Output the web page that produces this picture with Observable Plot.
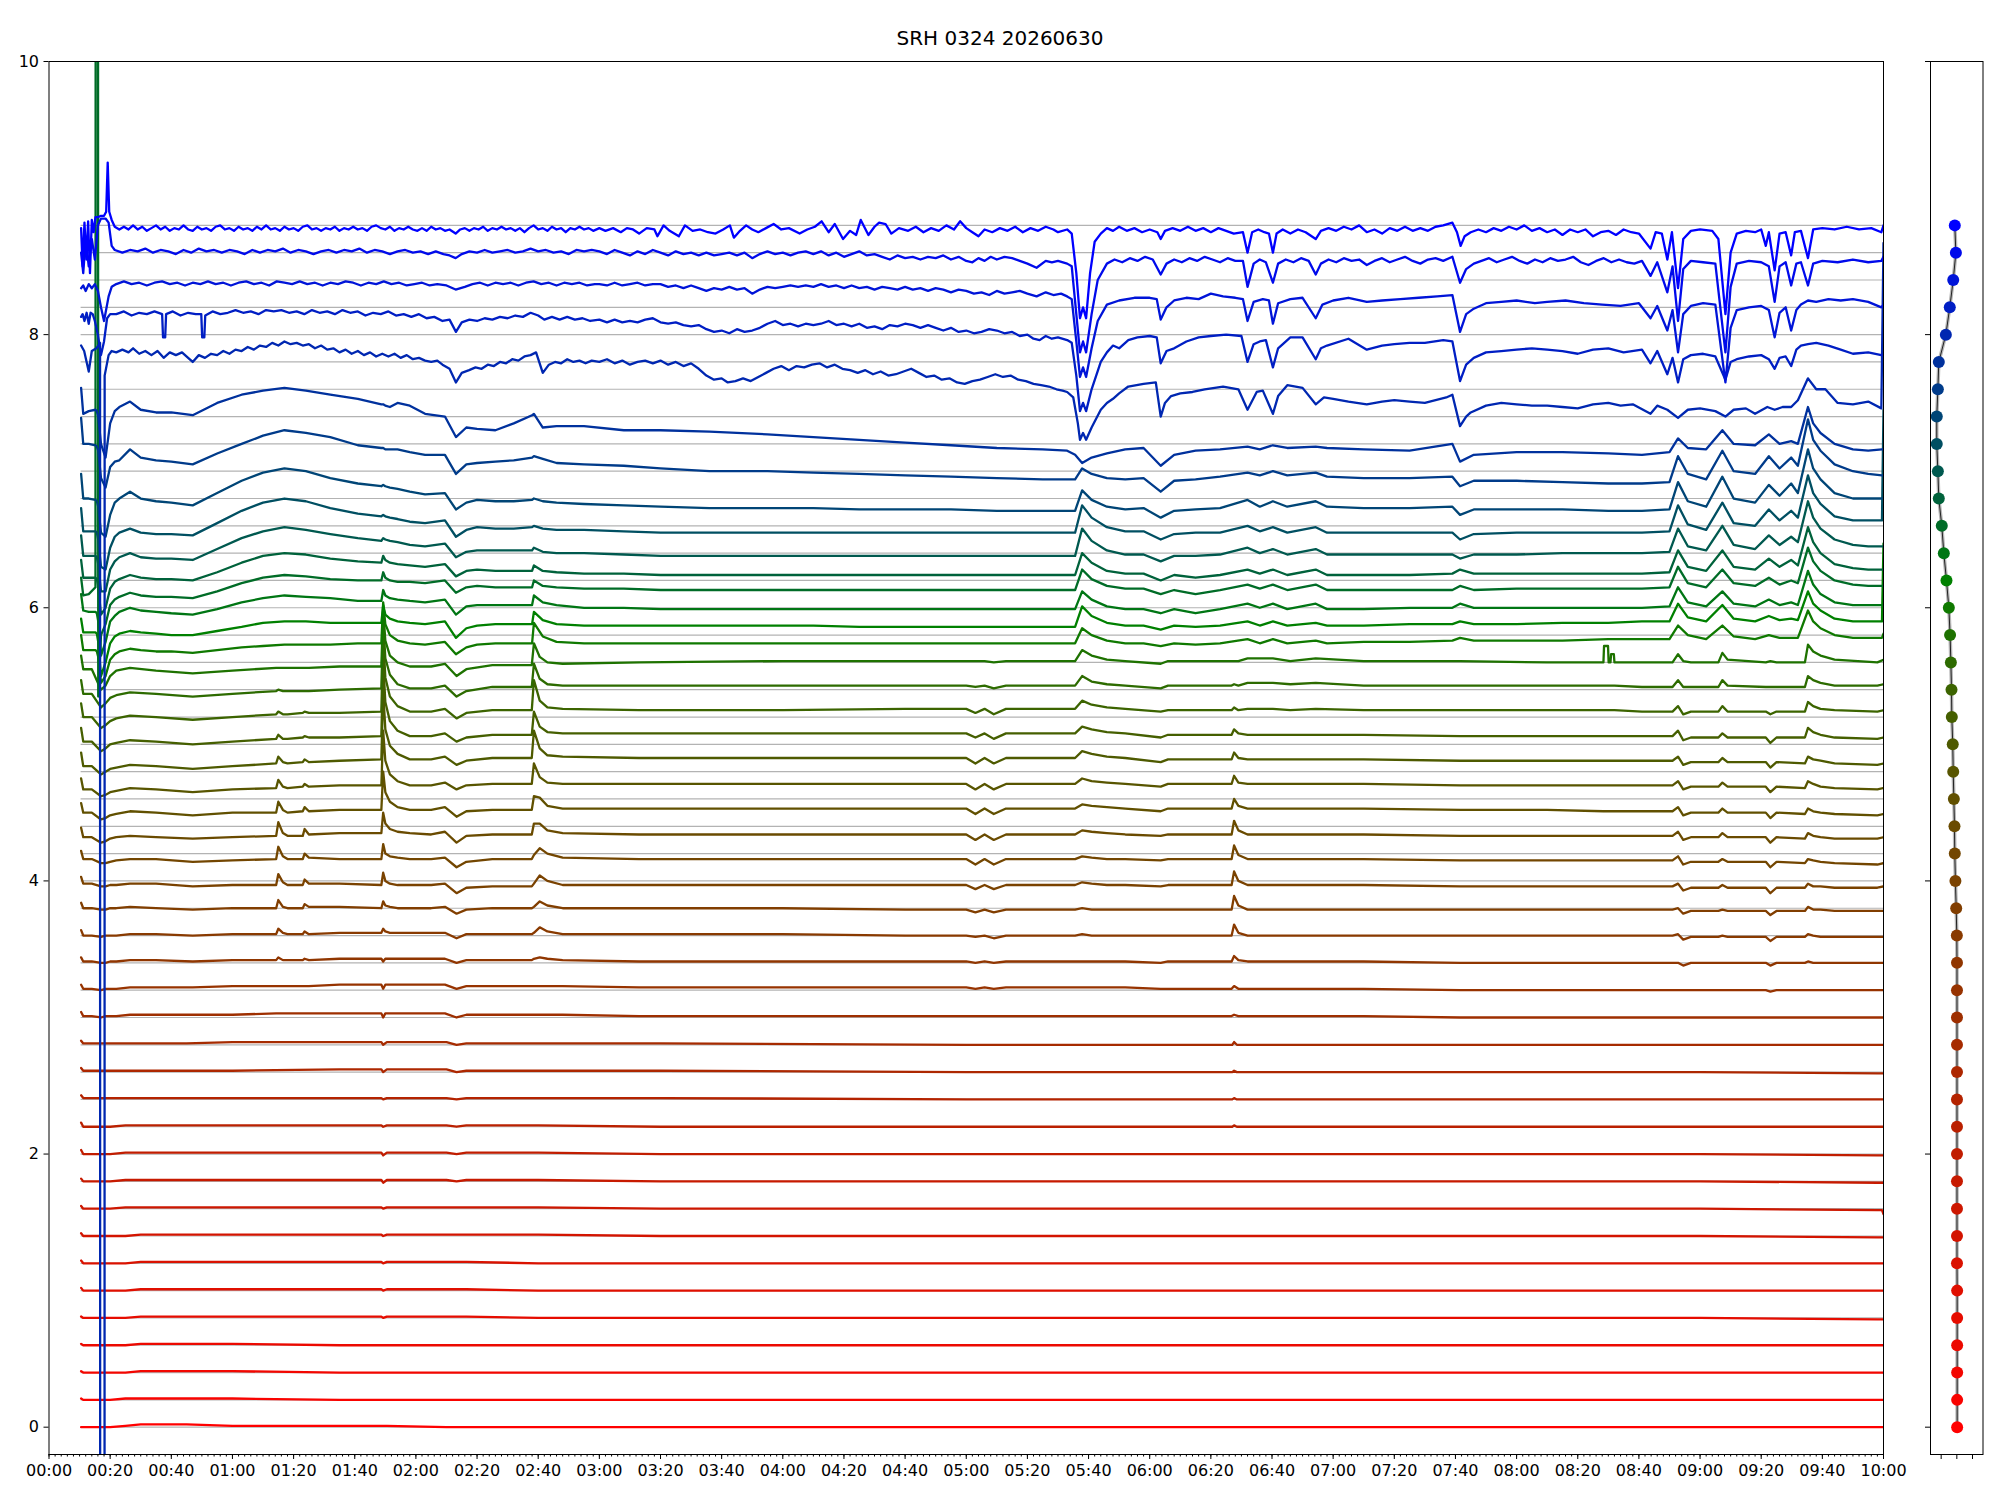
<!DOCTYPE html>
<html><head><meta charset="utf-8">
<script src="https://cdn.jsdelivr.net/npm/d3@7"></script>
<script src="https://cdn.jsdelivr.net/npm/@observablehq/plot@0.6"></script>
<style>
 body{margin:0;background:#fff}
 #fig{position:relative;width:2000px;height:1500px;background:#fff;font-family:"DejaVu Sans",sans-serif}
 #title{position:absolute;left:0;top:26px;width:2000px;text-align:center;font-size:20px;line-height:24px;z-index:2;color:#000}
 #main{position:absolute;left:0;top:0;width:1900px;height:1500px}
 #side{position:absolute;left:1900px;top:0;width:100px;height:1500px}
</style></head><body>
<div id="fig"><div id="main"></div><div id="side"></div><div id="title">SRH 0324 20260630</div></div>
<script>
// ---- DATA (minutes since 00:00; deviations from each trace's baseline in hundredths) ----
const titleText = "SRH 0324 20260630";
const baseStep = 0.2;            // baseline spacing between traces
const xTickMinutes = d3.range(0, 601, 20);
const xMinorMinutes = d3.range(0, 601, 2);
const yTicks = [0, 2, 4, 6, 8, 10];

// lower red traces 0.0 .. 2.8
const TR = [10.5,11.2,20,25,30,45,60,95,108.7,109.3,110.5,130,133.3,136.5,160,200,300,387,387.6,388.5,430,460,500,540,598,599.5,600];
const r00 = [0,0,0,1,2,2,1,1,1,1,1,0,0,0,0,0,0,0,0,0,0,0,0,0,0,0,0];
const r02 = [1,0,0,1,1,1,1,0,0,0,0,0,0,0,0,0,0,0,0,0,0,0,0,0,0,0,0];
const r04 = [1,0,0,0,1,1,1,0,0,0,0,0,0,0,0,0,0,0,0,0,0,0,0,0,0,0,0];
const r06 = [1,0,0,0,1,1,1,0,0,0,0,0,0,0,0,0,0,0,0,0,0,0,0,0,0,0,0];
const r08 = [1,0,0,0,1,1,1,1,1,0,1,1,1,1,0,0,0,0,0,0,0,0,0,0,-1,-1,-1];
const r10 = [2,0,0,0,1,1,1,1,1,0,1,1,1,1,0,0,0,0,0,0,0,0,0,0,0,0,0];
const r12 = [2,0,0,0,1,1,1,1,1,0,1,1,1,1,0,0,0,0,0,0,0,0,0,0,0,0,0];
const r14 = [2,0,0,0,1,1,1,1,1,0,1,1,1,1,1,0,0,0,0,0,0,0,0,0,-1,-1,-1];
const r16 = [2,0,0,1,1,1,1,1,1,0,1,1,1,1,1,0,0,0,0,0,0,0,0,0,-1,-1,-4];
const r18 = [2,0,0,1,1,1,1,1,1,-1,1,1,0,1,1,0,0,0,0,0,0,0,0,0,-1,-1,-1];
const r20 = [3,0,0,1,1,1,1,1,1,-1,1,1,0,1,1,0,0,0,0,0,0,0,0,0,-1,-1,-1];
const r22 = [3,0,0,1,1,1,1,1,1,0,1,1,0,1,1,0,0,0,1,0,0,0,0,0,0,0,0];
const r24 = [3,1,1,1,1,1,1,1,1,0,1,1,0,1,1,1,0,0,1,0,0,0,0,0,0,0,0];
const r26 = [3,1,1,1,1,1,1,2,2,0,2,2,0,1,1,1,0,0,1,0,0,0,0,0,-1,-1,-1];
const r28 = [3,1,1,1,1,1,2,2,2,0,2,2,0,1,1,1,0,0,2,0,0,0,0,0,0,0,0];

// middle traces 3.0 .. 5.8
const TM = [10.5,11.2,14,17,18.5,20,22,26.5,35,47,
 60,74.3,75,76.5,78,83,83.6,85,95,108.7,
 109.3,110,111.5,114,118,125,129.5,133.3,136.5,145,
 157.9,158.6,160.5,163,168,193,240,280,300,303,
 306,309,313,330,335.6,337.9,341,346,352,363.6,
 366,386.8,387.6,389,392,400.3,406,414.3,430,461.5,
 490,508.4,508.6,509.9,510.1,510.7,510.9,511.8,512,521,
 531,532.8,534.5,537,546,547.3,549,561.5,563,565,
 574.3,575.3,577,579.4,584,598,600];
const b30 = [4,1,1,0,1,1,1,2,2,2, 2,3,3,3,3,3,3,3,3,3, 0,3,3,3,3,3,3,0,2,2, 2,2,2,2,2,1,1,1,1,1, 1,1,1,1,1,1,1,1,1,1, 1,1,2,1,1,1,1,1,1,0, 0,0,0,0,0,0,0,0,0,0, 0,0,0,0,0,0,0,0,0,0, 0,0,0,0,0,0,0];
const b32 = [4,1,1,0,1,1,1,2,2,2, 3,3,3,3,3,3,3,3,4,4, 1,4,4,4,4,4,4,1,3,3, 3,3,3,3,3,2,2,2,2,1, 2,1,2,2,2,2,2,2,2,1, 1,1,3,1,1,1,1,1,1,0, 0,0,0,0,0,0,0,0,0,0, 0,0,0,0,0,0,0,0,-1,0, 0,0,0,0,0,0,0];
const b34 = [4,1,1,0,0,1,1,2,2,1, 2,2,4,2,2,2,3,2,3,3, 1,3,3,3,3,3,3,0,2,2, 2,3,4,3,2,1,1,1,1,0, 1,0,1,1,1,1,1,1,1,0, 1,1,5,2,1,1,1,1,1,0, 0,0,0,0,0,0,0,0,0,0, 0,0,-2,0,0,0,0,0,-2,0, 0,1,0,0,0,0,0];
const b36 = [4,0,0,-1,0,0,0,1,1,0, 1,1,5,2,1,1,3,1,2,2, 5,3,2,2,2,2,2,-2,1,1, 1,2,6,3,1,1,1,0,0,-1, 0,-2,0,0,0,1,0,0,0,0, 0,0,8,2,0,0,0,0,0,0, 0,0,0,0,0,0,0,0,0,0, 0,1,-3,-1,-1,0,-1,-1,-4,-1, -1,1,0,-1,-1,-1,-1];
const b38 = [4,0,0,-1,-1,0,0,1,0,-1, 0,0,6,1,0,0,3,1,1,0, 5,2,1,0,0,0,1,-4,-1,0, 0,1,5,2,0,0,0,-1,-1,-3, -1,-3,-1,-1,-1,0,-1,-1,-1,-1, -1,-1,9,2,-1,-1,-1,-1,-1,-1, -1,-1,-1,-1,-1,-1,-1,-1,-1,-1, -1,0,-4,-2,-2,-1,-2,-2,-5,-2, -2,1,-1,-1,-2,-2,-2];
const b40 = [3,-2,-2,-4,-4,-3,-3,-2,-2,-4, -3,-3,5,-1,-3,-3,1,-2,-2,-3, 6,0,-2,-3,-3,-3,-2,-9,-5,-4, -4,-2,4,0,-3,-3,-3,-3,-3,-6, -3,-6,-3,-3,-3,-1,-2,-3,-3,-4, -3,-3,7,0,-3,-3,-3,-3,-3,-4, -4,-4,-4,-4,-4,-4,-4,-4,-4,-4, -4,-2,-7,-5,-5,-3,-5,-5,-9,-5, -5,-2,-4,-4,-5,-5,-4];
const m42 = [2,-4,-4,-7,-7,-6,-5,-4,-4,-6, -5,-4,5,-2,-4,-4,0,-3,-4,-4, 7,0,-2,-3,-4,-4,-3,-10,-6,-4, -4,-1,4,0,-3,-4,-4,-4,-4,-8, -4,-8,-4,-4,-4,-2,-3,-4,-4,-5, -4,-4,6,-1,-4,-4,-4,-4,-4,-5, -5,-5,-5,-5,-5,-5,-5,-5,-5,-5, -5,-2,-8,-6,-6,-4,-6,-6,-10,-6, -7,-4,-5,-6,-7,-8,-7];
const m44 = [-1,-8,-8,-12,-11,-9,-8,-7,-8,-9, -8,-7,3,-5,-7,-7,-2,-6,-5,-5, 10,2,-2,-4,-5,-6,-4,-12,-7,-6, -6,2,2,-3,-5,-6,-6,-6,-6,-10, -6,-10,-6,-6,-6,-3,-4,-5,-6,-7, -6,-6,4,-3,-6,-6,-6,-6,-6,-7, -7,-7,-7,-7,-7,-7,-7,-7,-7,-7, -7,-4,-10,-8,-8,-5,-8,-8,-12,-8, -9,-5,-7,-8,-9,-9,-8];
const m46 = [-3,-10,-10,-15,-14,-12,-11,-9,-10,-12, -10,-10,-2,-8,-10,-9,-6,-9,-8,-8, 20,5,-2,-6,-8,-8,-6,-13,-9,-8, -8,2,1,-5,-7,-7,-7,-7,-7,-11, -7,-11,-7,-7,-7,-4,-5,-6,-7,-9, -7,-7,0,-5,-7,-7,-7,-7,-7,-8, -8,-9,-9,-9,-9,-9,-9,-9,-9,-9, -9,-6,-12,-10,-10,-7,-10,-10,-14,-10, -11,-7,-9,-10,-11,-12,-11];
const m48 = [-5,-13,-13,-18,-17,-15,-14,-12,-13,-15, -13,-12,-6,-11,-12,-11,-9,-11,-10,-10, 30,8,-2,-7,-10,-10,-8,-13,-10,-9, -9,6,-4,-8,-9,-9,-9,-9,-9,-13, -9,-13,-9,-9,-9,-5,-7,-8,-9,-11, -9,-9,-3,-8,-9,-9,-9,-9,-9,-10, -10,-10,-10,-10,-10,-10,-10,-10,-10,-10, -10,-7,-13,-11,-11,-8,-11,-11,-15,-11, -12,-7,-9,-11,-12,-13,-12];
const m50 = [-6,-16,-16,-22,-20,-18,-17,-15,-16,-18, -16,-14,-9,-13,-14,-13,-11,-13,-12,-11, 39,11,-1,-7,-11,-11,-9,-15,-12,-10, -10,10,-3,-8,-9,-10,-10,-10,-10,-14, -10,-14,-10,-10,-10,-5,-7,-9,-10,-13, -11,-11,-6,-10,-11,-11,-11,-11,-11,-12, -12,-12,-12,-12,-12,-12,-12,-12,-12,-12, -12,-9,-15,-13,-13,-10,-13,-13,-17,-13, -14,-9,-11,-12,-14,-15,-14];
const m52 = [-8,-18,-18,-25,-23,-20,-19,-17,-18,-20, -18,-16,-13,-16,-16,-15,-14,-15,-15,-14, 41,11,-3,-10,-14,-14,-12,-18,-15,-13, -13,4,-7,-11,-12,-12,-12,-12,-12,-15, -12,-16,-12,-12,-12,-7,-9,-11,-12,-15, -13,-13,-9,-12,-13,-13,-13,-13,-13,-14, -14,-14,-14,-14,-14,-14,-14,-14,-14,-14, -14,-10,-17,-15,-15,-12,-15,-15,-19,-15, -15,-8,-11,-13,-15,-16,-15];
const m54 = [-10,-20,-20,-28,-26,-23,-21,-19,-20,-22, -20,-18,-16,-18,-18,-17,-16,-17,-17,-16, 39,9,-5,-12,-16,-16,-14,-21,-17,-15, -15,7,-8,-13,-14,-15,-15,-14,-14,-17, -14,-18,-14,-14,-14,-8,-11,-13,-14,-16, -15,-15,-13,-15,-14,-14,-15,-14,-15,-15, -15,-15,-15,-15,-15,-15,-15,-15,-15,-16, -16,-12,-18,-16,-16,-12,-16,-16,-18,-16, -16,-9,-12,-14,-15,-16,-15];
const m56 = [-13,-23,-23,-33,-30,-26,-24,-22,-23,-25, -23,-21,-20,-21,-21,-21,-21,-21,-20,-19, 31,3,-9,-16,-19,-19,-17,-25,-21,-18, -18,-1,-12,-16,-17,-17,-17,-17,-17,-18, -17,-19,-17,-17,-17,-10,-14,-16,-17,-19, -17,-17,-16,-17,-15,-15,-16,-15,-17,-17, -17,-17,-17,-17,-17,-17,-17,-17,-17,-18, -18,-13,-18,-18,-18,-13,-17,-18,-18,-18, -18,-10,-13,-15,-17,-17,-16];
const m58 = [-15,-25,-25,-40,-37,-30,-26,-24,-26,-28, -26,-24,-24,-24,-24,-24,-24,-24,-23,-23, 19,-4,-15,-20,-23,-23,-21,-30,-25,-22, -22,-6,-16,-20,-21,-20,-19,-19,-19,-19, -19,-20,-19,-19,-19,-11,-15,-18,-19,-21, -19,-19,-19,-19,-17,-17,-19,-17,-19,-19, -20,-20,-8,-8,-20,-20,-14,-14,-20,-20, -20,-14,-19,-20,-20,-13,-18,-20,-19,-20, -20,-7,-12,-15,-18,-20,-18];

// upper traces 6.0 .. 7.8
const TU = [10.5,11.2,13,15.2,15.65,16.1,17,18.5,20,21.5,
 23,26.5,30,35,40,47,55,63,70,77,
 84,92,101,108.7,109.3,110,111.5,114,118,123,
 129.5,133.1,136.5,140,146,152,158,158.6,161.5,166,
 175,188,200,216,235,250,265,280,295,310,
 325,333,335.6,337.9,341,346,352,358,363.6,368,
 375,383,392,396,400.3,405,414.3,418,430,445,
 459,461.5,466,480,495,510,521,530,532.8,536,
 542,547.3,551,558,562.5,566,569.8,572,575.3,577,
 579.4,584,590,595,599.5,600];
const u60 = [-20,-31,-31,-31,-32,-36,-55,-50,-38,-34, -32,-30,-31,-32,-32,-33,-31,-29,-28,-27, -27,-27,-26,-26,4,-12,-20,-24,-26,-27, -25,-34,-29,-27,-26,-26,-26,-11,-21,-25, -26,-26,-26,-26,-26,-26,-26,-26,-26,-26, -26,-26,-26,-15,-20,-24,-26,-26,-28,-26, -27,-26,-23,-26,-23,-26,-24,-26,-25,-25, -24,-22,-24,-24,-24,-23,-23,-23,-13,-20, -23,-13,-21,-23,-20,-22,-22,-22,-2,-10, -15,-20,-22,-22,-22,-19];
const u62 = [-28,-38,-38,-38,-39,-45,-70,-60,-46,-41, -39,-37,-38,-39,-40,-40,-37,-34,-31,-30, -30,-31,-31,-31,-18,-25,-28,-30,-31,-32, -30,-42,-35,-33,-32,-32,-32,-23,-29,-32, -33,-33,-33,-33,-33,-33,-34,-34,-34,-34, -34,-34,-34,-19,-26,-31,-33,-33,-36,-33, -34,-33,-30,-33,-30,-33,-31,-33,-33,-32, -32,-30,-32,-32,-31,-31,-30,-30,-17,-27, -30,-18,-28,-30,-26,-29,-28,-29,-8,-17, -22,-28,-30,-30,-30,27];
const u64 = [-30,-42,-43,-43,-44,-50,-75,-65,-50,-46, -43,-40,-42,-43,-44,-45,-41,-36,-33,-31, -32,-33,-35,-35,-27,-31,-33,-34,-35,-36, -34,-45,-39,-38,-38,-38,-38,-31,-36,-38, -40,-40,-41,-41,-41,-41,-41,-41,-41,-41, -41,-41,-41,-28,-34,-39,-41,-41,-44,-41, -44,-41,-37,-40,-37,-41,-37,-41,-41,-40, -40,-37,-40,-40,-40,-40,-40,-39,-25,-36, -39,-28,-37,-39,-34,-38,-36,-38,-13,-23, -30,-36,-38,-38,-38,-38];
const u66 = [-38,-51,-50,-45,3400,-125,-80,-72,-58,-54, -52,-49,-51,-52,-52,-53,-48,-42,-38,-36, -37,-39,-40,-40,-34,-38,-40,-41,-41,-42, -40,-49,-45,-44,-45,-45,-45,-40,-44,-45, -46,-46,-47,-47,-47,-47,-47,-47,-47,-47, -47,-47,-47,-32,-39,-44,-46,-46,-50,-47, -50,-47,-43,-46,-43,-47,-43,-47,-47,-47, -47,-44,-47,-46,-46,-46,-46,-45,-30,-42, -45,-32,-42,-44,-38,-43,-40,-42,-16,-26, -33,-40,-43,-44,-44,-44];
const u68 = [-45,-58,-58,-58,-59,-64,-85,-80,-66,-61, -59,-56,-58,-59,-59,-60,-54,-47,-42,-40, -41,-44,-46,-47,-42,-45,-47,-48,-49,-50, -48,-57,-53,-52,-53,-53,-53,-49,-53,-54, -55,-55,-56,-56,-56,-56,-56,-56,-56,-56, -56,-56,-56,-40,-47,-53,-55,-55,-60,-56, -58,-56,-52,-55,-52,-56,-52,-56,-56,-56, -55,-52,-55,-55,-55,-55,-55,-54,-38,-50, -53,-38,-50,-52,-44,-50,-45,-49,-21,-32, -40,-48,-51,-52,-52,-52];
const u70 = [-47,-62,-62,-62,-63,-68,-88,-88,-72,-66, -63,-60,-63,-64,-64,-65,-57,-49,-44,-41, -43,-46,-49,-51,-49,-50,-51,-52,-54,-55, -53,-63,-59,-58,-58,-58,-58,-56,-59,-60, -60,-61,-62,-62,-62,-62,-62,-62,-62,-62, -62,-62,-62,-42,-51,-58,-61,-61,-66,-62, -62,-61,-56,-60,-57,-61,-57,-61,-61,-61, -61,-64,-61,-61,-60,-60,-60,-59,-42,-55, -58,-40,-54,-57,-47,-54,-48,-52,-22,-34, -42,-50,-54,-55,-55,-55];
const u72 = [-47,-64,-64,-64,-65,-70,-90,-92,-76,-68, -65,-62,-65,-66,-66,-67,-58,-49,-43,-40, -42,-47,-51,-53,-52,-53,-54,-55,-57,-58, -56,-68,-63,-61,-62,-62,-61,-60,-62,-63, -63,-64,-65,-65,-65,-65,-65,-65,-65,-65, -65,-65,-65,-45,-54,-61,-64,-64,-70,-66, -65,-65,-60,-64,-61,-65,-61,-65,-65,-65, -65,-70,-66,-65,-65,-65,-65,-64,-45,-59, -63,-43,-58,-60,-48,-56,-49,-54,-23,-36, -44,-53,-56,-56,-56,25];
const u74 = [-42,-60,-60,-61,-62,-66,-85,-88,-72,-63, -60,-55,-60,-62,-63,-65,-56,-47,-41,-38, -40,-45,-49,-51,-50,-51,-52,-53,-55,-57, -56,-68,-63,-61,-62,-62,-61,-60,-62,-63, -64,-65,-66,-67,-67,-67,-68,-68,-68,-69, -69,-69,-69,-54,-61,-66,-68,-67,-74,-69, -68,-67,-61,-66,-62,-66,-62,-66,-67,-67, -66,-72,-68,-68,-68,-69,-69,-68,-48,-62, -66,-44,-60,-63,-50,-58,-49,-56,-24,-38, -46,-56,-60,-60,-60,-60];
const u76 = [-21,-40,-40,-41,-42,-45,-65,-72,-57,-53, -52,-44,-50,-52,-53,-55,-47,-40,-34,-30, -32,-35,-41,-43,-43,-44,-44,-44,-46,-48, -48,-62,-55,-54,-53,-52,-50,-49,-51,-54, -55,-56,-58,-60,-60,-61,-62,-63,-64,-65, -66,-66,-66,-58,-62,-65,-66,-65,-75,-67, -66,-64,-61,-63,-60,-63,-61,-64,-65,-65, -64,-71,-67,-67,-68,-69,-69,-68,-49,-62, -66,-45,-60,-62,-49,-58,-50,-56,-22,-37, -45,-55,-60,-62,-63,-63];
const u78 = [-19,-38,-36,-35,-36,-40,-60,-70,-45,-36, -33,-29,-35,-37,-37,-39,-30,-24,-21,-19, -21,-24,-27,-31,-31,-32,-33,-30,-32,-38, -40,-55,-48,-49,-50,-45,-39,-38,-48,-47, -47,-50,-50,-51,-53,-55,-57,-59,-61,-63, -64,-65,-68,-74,-70,-67,-64,-63,-76,-68, -65,-64,-62,-64,-61,-63,-62,-63,-64,-65, -60,-73,-68,-66,-66,-67,-68,-66,-56,-63, -64,-50,-60,-61,-53,-60,-58,-60,-33,-45, -52,-60,-64,-65,-64,-64];

// top blue traces 8.0 .. 8.8 as [minute, deviation] pairs
const t80 = [10.5,-8, 11.5,-12, 13,-27, 14,-12, 15.5,-10, 16.7,-6, 17.45,-20000, 18.2,-30, 19.5,-15,
 20.5,-12, 22,-13, 24,-11, 26,-13, 27.5,-10, 29.5,-14, 31.5,-12, 33.5,-15, 35.5,-12, 37.5,-17, 39.5,-13, 41.5,-15, 43.5,-13, 45.5,-17, 47,-20, 49,-15, 51,-17, 53,-14, 55,-15, 57,-12, 59,-14, 61,-11, 63,-12, 65,-9, 67,-11, 69,-8, 71,-9, 73,-6, 75,-8, 77,-5, 79,-7, 81,-6, 83,-8, 85,-7, 87,-10, 89,-8, 91,-11, 93,-10, 95,-13, 97,-11, 99,-14, 101,-12, 103,-15, 105,-13, 107,-16, 109,-14, 111,-16, 113,-14, 115,-17, 117,-15, 119,-18, 121,-17, 123,-19, 125,-20, 127,-19, 128.7,-22, 131,-25, 133.1,-35, 135,-28, 137.4,-26, 139.5,-24, 141.5,-25, 143.5,-22, 145.5,-23, 147.5,-20, 149.5,-21, 151.5,-18, 153.5,-19, 155.5,-16, 157.5,-15, 159.3,-13, 161.5,-28, 163.5,-22, 165.5,-20, 167.5,-21, 169.5,-18, 171.5,-20, 173.5,-19, 175.5,-21, 177.5,-19,
 180,-20, 182.5,-18, 185,-21, 187.5,-19, 190,-22, 192.5,-20, 195,-19, 197.5,-21, 200,-19, 202.5,-22, 205,-20, 207.5,-23, 210,-21, 212.5,-25, 215,-30, 217.5,-33, 220,-32, 222,-35, 224.5,-34, 227,-32, 229.5,-34, 232,-31, 234.5,-28, 237,-25, 239.5,-23, 242,-26, 244.5,-23, 247,-24, 249.5,-22, 252,-21, 254.5,-24, 257,-22, 259.5,-25, 262,-26, 264.5,-28, 267,-26, 269.5,-29, 272,-27, 274.5,-30, 277,-29, 279.5,-27, 282,-25, 284.5,-28, 287,-31, 289.5,-30, 292,-33, 294.5,-32, 297,-35, 299.5,-36, 302,-34, 304.5,-33, 307,-31, 309.5,-29, 312,-31, 314.5,-30, 317,-33, 319.5,-34, 322,-36, 324.5,-37, 327,-38, 329.5,-40, 331.5,-41, 333,-42,
 335,-46, 336.5,-65, 337.2,-77, 338.2,-72, 339.2,-77, 341,-68, 344,-55, 346,-50, 348,-47, 350,-43, 353,-38, 358,-36, 362,-35, 363.6,-60, 365,-50, 367,-45, 370,-43, 374,-42, 378,-40, 384,-38, 389,-40, 392,-55, 395,-42, 397,-41, 400.3,-58, 402,-45, 405,-37, 410,-39, 414.3,-51, 417,-46, 420,-47, 425,-49, 431,-51, 436,-49, 440,-48, 445,-49, 450,-50, 457,-46, 459,-44, 461.5,-67, 463.5,-60, 465,-57, 470,-52, 475,-50, 480,-51, 485,-52, 490,-52, 495,-53, 500,-54, 505,-51, 510,-50, 514,-52, 518,-51, 523.8,-58, 526,-52, 529.3,-55, 532.8,-61, 536,-55, 540,-54, 545,-56, 548.3,-60, 551,-55, 555,-54, 558,-58, 562,-53, 564.4,-55, 567,-53, 569.8,-53, 572,-48, 575.3,-32, 578,-40, 581,-40, 585,-50, 590,-51, 595,-49, 599.3,-54, 600,67];
const t82 = [10.5,-7, 11,-5, 11.6,-10, 12.3,-4, 13,-12, 13.6,-4, 14.3,-5, 15,-10, 16,-20, 17,-35, 18,-25, 19,-8,
 20,-5, 22,-5, 24.5,-3, 27,-6, 29.5,-4, 32,-5, 34.5,-3, 37,-5, 37.3,-22, 38,-22, 38.3,-5, 40.5,-3, 43,-6, 45.5,-4, 48,-5, 49.8,-5, 50.1,-22, 50.8,-22, 51.1,-6, 53.5,-3, 56,-5, 58.5,-4, 61,-2, 63.5,-4, 66,-3, 68.5,-5, 71,-2, 73.5,-3, 76,-2, 78.5,-4, 81,-3, 83.5,-5, 86,-2, 88.5,-4, 91,-3, 93.5,-5, 96,-2, 98.5,-4, 101,-3, 103.5,-6, 106,-4, 108.5,-5, 111,-3, 113.5,-6, 116,-5, 118.5,-7, 121,-5, 123.5,-8, 126,-7, 128.7,-10, 131,-9, 133.1,-18, 135,-11, 137.5,-9, 140,-10, 142.5,-8, 145,-9, 147.5,-7, 150,-8, 152.5,-6, 155,-7, 157.5,-4, 160,-6, 162,-9, 164.5,-7, 167,-9, 169.5,-7, 172,-9, 174.5,-8, 177,-10,
 180,-9, 182.5,-11, 185,-9, 187.5,-11, 190,-10, 192.5,-11, 195,-9, 197.5,-8, 200,-11, 202.5,-12, 205,-11, 207.5,-13, 210,-14, 212.5,-13, 215,-16, 217.5,-18, 220,-17, 222.5,-19, 225,-16, 227.5,-18, 230,-17, 232.5,-15, 235,-12, 237.5,-10, 240,-13, 242.5,-12, 245,-14, 247.5,-12, 250,-13, 252.5,-12, 255,-10, 257.5,-13, 260,-12, 262.5,-14, 265,-12, 267.5,-15, 270,-14, 272.5,-16, 275,-13, 277.5,-14, 280,-12, 282.5,-13, 285,-15, 287.5,-13, 290,-15, 292.5,-17, 295,-15, 297.5,-18, 300,-17, 302.5,-19, 305,-18, 307.5,-16, 310,-17, 312.5,-19, 315,-18, 317.5,-21, 320,-20, 322,-23, 324,-24, 326,-21, 328,-23, 330,-22, 333,-24,
 334.5,-26, 336,-50, 337.2,-76, 338.2,-70, 339.2,-76, 341,-60, 344,-40, 346,-33, 348,-28, 350,-30, 353,-24, 356,-22, 360,-21, 362.3,-22, 363.6,-41, 365.5,-32, 368,-30, 372,-25, 376,-22, 380,-21, 385,-20, 390,-21, 392,-40, 394,-27, 396,-25, 398,-24, 400.3,-44, 402,-30, 406,-22, 410,-22, 414.3,-38, 416,-30, 418,-28, 425,-23, 431,-31, 436,-28, 440,-27, 445,-26, 450,-26, 456,-24, 459,-25, 461.5,-54, 463.5,-42, 466,-37, 470,-33, 475,-32, 480,-31, 485,-30, 490,-31, 495,-32, 500,-34, 505,-31, 510,-30, 515,-33, 521,-31, 523.8,-41, 526,-32, 529.3,-49, 531,-37, 532.8,-55, 534.5,-38, 537,-35, 541,-34, 545,-36, 548.3,-53, 550,-40, 552,-38, 556,-36, 560,-35, 562.5,-38, 564.4,-45, 566,-37, 568,-36, 569.8,-43, 571.5,-31, 573,-28, 575.3,-27, 578,-26, 582,-28, 586,-31, 590,-34, 595,-33, 599.3,-35, 600,-34];
const t84 = [10.5,-6, 11.2,-4, 12,-8, 13,-3, 14,-6, 15,-3, 16,-8, 17,-20, 18,-30, 19.5,-12, 20.5,-5,
 22,-3, 24.5,-1, 27,-3, 29.5,-2, 32,-4, 34.5,-2, 37,-1, 39.5,-3, 42,-2, 44.5,-4, 47,-2, 49.5,-3, 52,-1, 54.5,-3, 57,-2, 59.5,-4, 62,-2, 64.5,-1, 67,-3, 69.5,-2, 72,-4, 74.5,-1, 77,-2, 79.5,-3, 82,-1, 84.5,-3, 87,-2, 89.5,-4, 92,-2, 94.5,-3, 97,-1, 99.5,-2, 102,-4, 104.5,-2, 107,-3, 109.5,-1, 112,-3, 114.5,-2, 117,-4, 119.5,-3, 122,-2, 124.5,-4, 127,-3, 130,-4, 133,-7, 136,-5, 138.5,-3, 141,-2, 143.5,-4, 146,-2, 148.5,-3, 151,-2, 153.5,-4, 156,-2, 158.5,-1, 161,-3, 163.5,-2, 166,-4, 168.5,-2, 171,-3, 173.5,-2, 176,-4, 178.5,-3,
 180,-3, 182.5,-4, 185,-2, 187.5,-4, 190,-3, 192.5,-2, 195,-4, 197.5,-3, 200,-3, 202.5,-5, 205,-4, 207.5,-6, 210,-4, 212.5,-6, 215,-8, 217.5,-6, 220,-7, 222.5,-5, 225,-7, 227.5,-6, 230,-10, 232.5,-7, 235,-5, 237.5,-6, 240,-5, 242.5,-4, 245,-5, 247.5,-4, 250,-5, 252.5,-3, 255,-5, 257.5,-4, 260,-6, 262.5,-4, 265,-6, 267.5,-5, 270,-7, 272.5,-5, 275,-6, 277.5,-7, 280,-5, 282.5,-7, 285,-6, 287.5,-8, 290,-6, 292.5,-7, 295,-9, 297.5,-7, 300,-8, 302.5,-10, 305,-9, 307.5,-11, 310,-8, 312.5,-10, 315,-9, 317.5,-8, 320,-10, 323,-12, 326,-9, 328.5,-11, 331,-10, 333,-12,
 334.5,-14, 336,-45, 337.2,-71, 338.2,-64, 339.2,-71, 341,-50, 343,-30, 346,-18, 350,-15, 355,-13, 360,-13, 362.3,-14, 363.6,-29, 365.5,-20, 368,-15, 372,-13, 376,-14, 380,-10, 384,-12, 388,-13, 390.5,-14, 392,-30, 394,-16, 397,-14, 399,-15, 400.3,-32, 402,-17, 406,-14, 410,-13, 414.3,-28, 416.5,-18, 420,-15, 425,-13, 431,-16, 436,-15, 442,-14, 448,-13, 454,-12, 459,-11, 461.5,-38, 463.5,-25, 466,-21, 470,-17, 475,-16, 480,-15, 486,-17, 490,-16, 496,-15, 502,-17, 508,-18, 514,-19, 520,-17, 523.8,-28, 526,-19, 529.3,-37, 531,-22, 532.8,-53, 534.5,-25, 537,-19, 541,-17, 545,-18, 548.3,-75, 550,-35, 552,-22, 556,-20, 560,-19, 562.5,-22, 564.4,-42, 566,-24, 568,-20, 569.8,-37, 571.5,-22, 573,-18, 575.3,-15, 578,-16, 582,-14, 586,-15, 590,-14, 595,-16, 599.3,-20, 600,-18];
const t86 = [10.5,0, 11.2,-15, 12,10, 13,-10, 14,10, 15,-5, 16,20, 17,25, 18.5,25, 19.5,22, 20.5,5,
 21.5,2, 24,0, 26.5,2, 29,1, 31.5,3, 34,0, 36.5,2, 39,1, 41.5,-1, 44,2, 46.5,0, 49,3, 51.5,1, 54,2, 56.5,0, 59,2, 61.5,1, 64,-1, 66.5,2, 69,0, 71.5,2, 74,1, 76.5,3, 79,0, 81.5,2, 84,1, 86.5,-1, 89,1, 91.5,2, 94,0, 96.5,2, 99,1, 101.5,3, 104,0, 106.5,2, 109,1, 111.5,-1, 114,1, 116.5,2, 119,0, 121.5,1, 124,-1, 126.5,1, 129,-1, 131,-2, 133,-4, 135,-1, 137.5,1, 140,0, 142.5,2, 145,0, 147.5,1, 150,2, 152.5,0, 155,1, 157.5,3, 160,1, 162.5,2, 165,0, 167.5,1, 170,-1, 172.5,2, 175,1, 177.5,2,
 180,1, 182.5,-1, 185,2, 187.5,0, 190,-2, 192.5,1, 195,-1, 197.5,2, 200,0, 202.5,-2, 205,1, 207.5,-1, 210,0, 212.5,-2, 215,0, 217.5,-2, 220,-1, 222.5,0, 225,-2, 227.5,0, 230,-4, 232.5,-1, 235,1, 237.5,-1, 240,0, 242.5,-2, 245,0, 247.5,1, 250,-1, 252.5,1, 255,-2, 257.5,0, 260,-3, 262.5,-1, 265,1, 267.5,-2, 270,-1, 272.5,-3, 275,-5, 277.5,-2, 280,-4, 282.5,-3, 285,-5, 287.5,-3, 290,-4, 292.5,-2, 295,-5, 297.5,-3, 300,-6, 302,-7, 304,-4, 306,-6, 308,-3, 310,-5, 312.5,-3, 315,-4, 317.5,-6, 320,-8, 323,-11, 326,-6, 328,-7, 330,-6, 333,-8,
 334.5,-10, 336,-45, 337.2,-73, 338.2,-65, 339.2,-73, 341,-45,
 343,-20, 346,-8, 348.5,-5, 351,-7, 353.5,-4, 356,-6, 358.5,-3, 361,-5, 363.6,-16, 365.5,-8, 368,-5, 370.5,-7, 373,-4, 375.5,-6, 378,-3, 380.5,-5, 383,-7, 385.5,-4, 388,-6, 390.5,-6, 392,-25, 394,-8, 396,-5, 398,-7, 400.3,-22, 402,-8, 404.5,-5, 407,-7, 409.5,-4, 412,-6, 414.3,-16, 416,-8, 418.5,-5, 421,-7, 423.5,-4, 426,-6, 428.5,-5, 431,-9, 433.5,-6, 436,-4, 438.5,-7, 441,-5, 443.5,-3, 446,-6, 448.5,-8, 451,-5, 453.5,-4, 456,-6, 459,-3, 461.5,-22, 463.5,-12, 466,-8, 468.5,-6, 471,-4, 473.5,-7, 476,-5, 478.5,-3, 481,-6, 483.5,-8, 486,-5, 488.5,-7, 491,-4, 493.5,-6, 496,-5, 498.5,-3, 501,-7, 503.5,-9, 506,-6, 508.5,-4, 511,-7, 513.5,-5, 516,-7, 518.5,-8, 521,-6,
 523.8,-17, 526,-7, 529.3,-29, 531,-10, 532.8,-50, 534.5,-12, 537,-6, 541,-7, 545,-8, 548.3,-73, 550,-25, 552,-8, 556,-6, 560,-7, 562.5,-10, 564.4,-36, 566,-10, 568,-7, 569.8,-24, 571.5,-8, 573,-7, 575.3,-24, 577,-8, 580,-6, 585,-7, 590,-5, 595,-7, 599.3,-6, 600,-3];
const t88 = [10.5,-2, 11,-30, 11.6,2, 12.2,-25, 12.8,3, 13.4,-35, 14,4, 14.6,-5, 15.2,6, 16,6, 17,7, 18,7, 18.7,10, 19.2,46, 19.7,10,
 20.5,4, 21.5,-1, 23,-3, 24.5,-1, 26,-3, 27.5,0, 29,-3, 30.5,-1, 32,-4, 33.5,-2, 35,0, 36.5,-3, 38,-1, 39.5,-4, 41,-2, 42.5,-3, 44,0, 45.5,-3, 47,-4, 48.5,-1, 50,-3, 51.5,-2, 53,-4, 54.5,-1, 56,0, 57.5,-3, 59,-2, 60.5,-4, 62,-1, 63.5,-3, 65,-2, 66.5,-4, 68,-1, 69.5,-3, 71,0, 72.5,-3, 74,-2, 75.5,-4, 77,-1, 78.5,-3, 80,-2, 81.5,-4, 83,-1, 84.5,0, 86,-3, 87.5,-2, 89,-4, 90.5,-2, 92,-3, 93.5,-1, 95,-4, 96.5,-2, 98,-3, 99.5,-1, 101,-3, 102.5,-2, 104,-4, 105.5,-1, 107,0, 108.5,-2, 110,-3, 111.5,-1, 113,-4, 114.5,-2, 116,-3, 117.5,-1, 119,-3, 120.5,-4, 122,-2, 123.5,-4, 125,-1, 126.5,-3, 128,-2, 129.5,-4, 131,-3, 133,-6, 134.5,-3, 136,-2, 137.5,-4, 139,-2, 140.5,-3, 142,-1, 143.5,-4, 145,-2, 146.5,-3, 148,-1, 149.5,-3, 151,-2, 152.5,-4, 154,-2, 155.5,-5, 157,-2, 158.5,0, 160,-3, 161.5,-2, 163,-4, 164.5,-1, 166,-3, 167.5,-2, 169,-5, 170.5,-2, 172,-3, 173.5,-1, 175,-3, 176.5,-2, 178,-4,
 180,-2, 182,-4, 184.5,-2, 187,-5, 189,-2, 191,-3, 193,-6, 195.5,-2, 198,-3, 199,-8, 201,0, 203,-4, 206,-8, 208,0, 210.5,-4, 213,-3, 215.5,-5, 218,-6, 220.5,-3, 222.7,0, 224,-9, 226,-4, 228,0, 230,-3, 232,-5, 234.5,-2, 237,1, 239.5,-3, 242,-2, 245.5,-6, 248,-3, 250.5,-1, 252.7,3, 255,-5, 257,1, 259.7,-10, 262,-4, 264,-7, 265.5,4, 268,-7, 270,-1, 271.5,2, 273.6,1, 275.5,-6, 278,-2, 281,-4, 283.5,-1, 286,-5, 288.5,-2, 291,-4, 293.5,0, 296,-3, 298,3, 300,-2, 302,-5, 304,-8, 306,-3, 308.5,-5, 311,-2, 313.5,-4, 316,-1, 318.5,-5, 321,-2, 323.5,-4, 326,-1, 328.5,-3, 330,-5, 333,-3,
 334.5,-6, 336,-35, 337.2,-68, 338.2,-60, 339.2,-68, 340.5,-35, 342,-12,
 344,-6, 346,-2, 348,-4, 350,-1, 352.5,-4, 355,-2, 357.5,-5, 360,-3, 362.5,-5, 363.6,-10, 365,-4, 367.5,-2, 370,-4, 372.5,-1, 375,-4, 377.5,-2, 380,-5, 382.5,-2, 385,-4, 387.5,-6, 390.5,-5, 392,-20, 393.5,-5, 395.5,-3, 397.5,-5, 399,-6, 400.3,-20, 401.5,-6, 403.5,-3, 406,-6, 408.5,-3, 411,-5, 414.3,-10, 416,-4, 418.5,-2, 421,-4, 423.5,-1, 426,-3, 428.5,0, 431,-5, 433.5,-3, 436,-6, 438.5,-2, 441,-4, 443.5,-1, 446,-4, 448.5,-2, 451,-4, 453.5,-1, 456,0, 459,2, 460.5,-5, 461.7,-15, 463,-8, 465,-5, 467.5,-3, 470,-5, 472.5,-2, 475,-4, 477.5,-1, 480,-3, 482.5,0, 485,-4, 487.5,-2, 490,-5, 492.5,-3, 495,-7, 497.5,-3, 500,-5, 502.5,-3, 505,-8, 507.5,-5, 510,-4, 512.5,-7, 515,-3, 517.5,-5, 520,-6,
 523.8,-17, 525.5,-5, 527.5,-6, 529.3,-25, 530.8,-5, 532.8,-46, 534.5,-10, 537,-4, 540,-3, 544,-4, 546,-10, 548.3,-65, 550,-20, 552,-6, 555,-4, 558,-5, 560,-3, 561.5,-15, 562.5,-5, 564.4,-33, 566,-6, 568,-5, 569.8,-22, 571,-5, 573,-4, 575.3,-24, 577,-3, 580,-2, 584,-3, 588,-1, 592,-3, 596,-2, 599.3,-5, 600,0];

// right panel: per-trace offset (bottom trace first)
const dotOffset = [0.02,0.02,0.02,0.02,0.02,0.02,0.01,0.01,0.01,0.01,
 0.01,0.01,0.01,0.01,0.01,0.01,0.01,0.01,0.0,-0.04,
 -0.09,-0.13,-0.15,-0.19,-0.23,-0.26,-0.32,-0.34,-0.38,-0.43,
 -0.51,-0.66,-0.83,-0.96,-1.15,-1.21,-1.28,-1.28,-1.21,-1.15,
 -0.70,-0.45,-0.23,-0.06,-0.13];

// ---- BUILD ----
const groups = [
  {times: TR, list: [r00,r02,r04,r06,r08,r10,r12,r14,r16,r18,r20,r22,r24,r26,r28], start: 0},
  {times: TM, list: [b30,b32,b34,b36,b38,b40,m42,m44,m46,m48,m50,m52,m54,m56,m58], start: 15},
  {times: TU, list: [u60,u62,u64,u66,u68,u70,u72,u74,u76,u78], start: 30}
];
const pairSeries = [t80,t82,t84,t86,t88]; // k = 40..44
const colorScale = d3.scaleLinear()
  .domain([0, 2.4, 4.2, 5.4, 6.2, 7.5, 8.8])
  .range(["#ff0000", "#b42300", "#734600", "#3c6400", "#008000", "#004080", "#0000ff"])
  .clamp(true);

const traces = [];
groups.forEach(g => {
  g.list.forEach((arr, i) => {
    if (arr.length !== g.times.length) throw new Error("length mismatch group " + g.start + " idx " + i + ": " + arr.length + " vs " + g.times.length);
    const k = g.start + i, base = +(k * baseStep).toFixed(2);
    traces.push({k, base, rows: g.times.map((t, j) => ({t, v: base + arr[j] / 100}))});
  });
});
pairSeries.forEach((arr, i) => {
  if (arr.length % 2) throw new Error("odd pair list " + i);
  const k = 40 + i, base = +(k * baseStep).toFixed(2);
  const rows = [];
  for (let j = 0; j < arr.length; j += 2) rows.push({t: arr[j], v: base + arr[j + 1] / 100});
  traces.push({k, base, rows});
});
traces.forEach(tr => tr.color = colorScale(tr.base));
const baselines = traces.map(tr => tr.base);
const dots = traces.map(tr => ({y: tr.base, x: dotOffset[tr.k], c: tr.color}));

const fmt = m => String(Math.floor(m / 60)).padStart(2, "0") + ":" + String(m % 60).padStart(2, "0");
const style = {fontFamily: "DejaVu Sans, sans-serif", fontSize: "16px", color: "black", background: "transparent", overflow: "visible"};

const mainChart = Plot.plot({
  width: 1900, height: 1500,
  marginLeft: 48.5, marginRight: 17, marginTop: 61, marginBottom: 46,
  style,
  x: {domain: [0, 600]},
  y: {domain: [-0.2, 10]},
  marks: [
    Plot.ruleY(baselines, {y: d => d, x1: 10.5, x2: 600, stroke: "#b3b3b3", strokeWidth: 1.2}),
    ...traces.map(tr => Plot.line(tr.rows, {x: "t", y: "v", stroke: tr.color, strokeWidth: 2.3, clip: true})),
    Plot.frame({stroke: "black", strokeWidth: 1}),
    Plot.axisX({ticks: xMinorMinutes, tickSize: 2.5, tickFormat: () => "", label: null}),
    Plot.axisX({ticks: xTickMinutes, tickSize: 5, tickPadding: 5, tickFormat: fmt, label: null, fontSize: 16}),
    Plot.axisY({ticks: yTicks, tickSize: 5, tickPadding: 5, tickFormat: d => String(d), label: null, fontSize: 16})
  ]
});
document.getElementById("main").appendChild(mainChart);

const sideChart = Plot.plot({
  width: 100, height: 1500,
  marginLeft: 30, marginRight: 17.5, marginTop: 61, marginBottom: 46,
  style,
  x: {domain: [-1.68, 1.67]},
  y: {domain: [-0.2, 10]},
  marks: [
    Plot.line(dots, {x: "x", y: "y", stroke: "#999", strokeWidth: 3.5, strokeOpacity: 0.7}),
    Plot.line(dots, {x: "x", y: "y", stroke: "#222", strokeWidth: 1}),
    Plot.dot(dots, {x: "x", y: "y", r: 6, fill: "c", stroke: "none"}),
    Plot.frame({stroke: "black", strokeWidth: 1}),
    Plot.axisX({ticks: [-1, 0, 1], tickSize: 5, tickFormat: () => "", label: null}),
    Plot.axisY({ticks: yTicks, tickSize: 5, tickFormat: () => "", label: null})
  ]
});
document.getElementById("side").appendChild(sideChart);
document.getElementById("title").textContent = titleText;
</script></body></html>
